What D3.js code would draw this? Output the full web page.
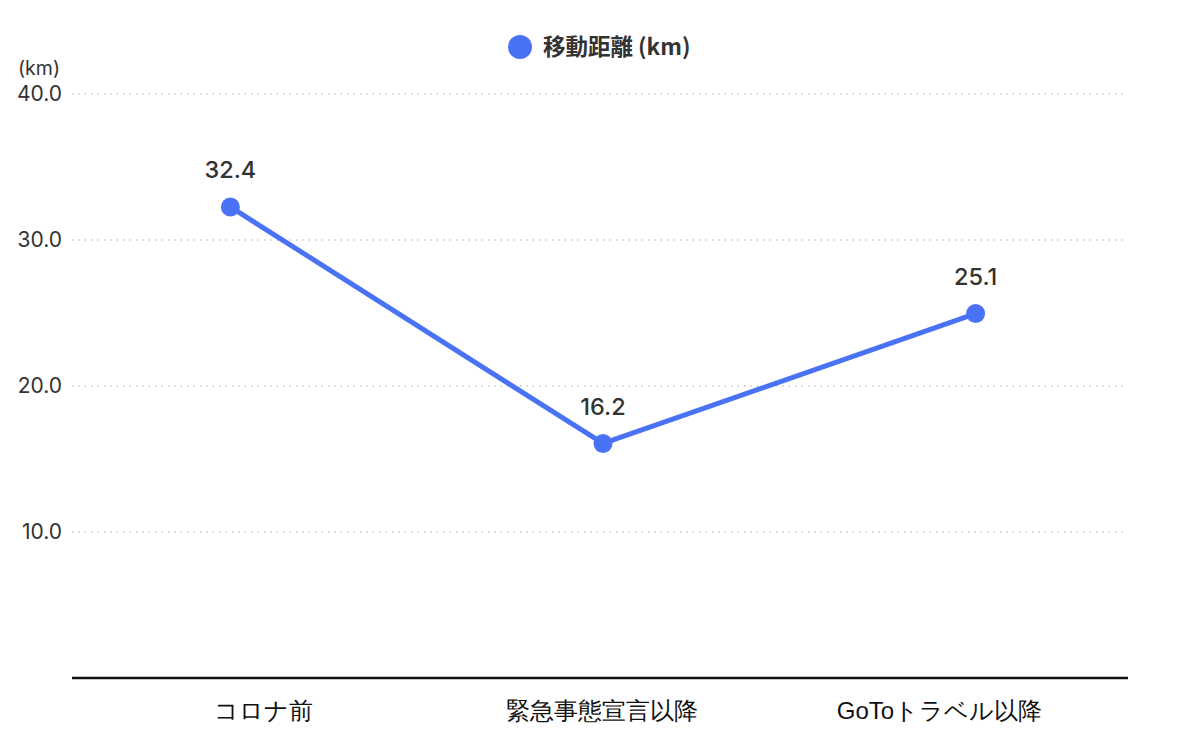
<!DOCTYPE html>
<html><head><meta charset="utf-8">
<script src="https://cdn.jsdelivr.net/npm/d3@7"></script>
<style>body{margin:0;background:#fff;} svg{display:block;font-family:"Noto Sans CJK JP","Noto Sans",sans-serif;}</style>
</head><body>
<svg id="c" width="1200" height="750"></svg>
<script>
const categories = ["コロナ前", "緊急事態宣言以降", "GoToトラベル以降"];
const distanceValues = [32.4, 16.2, 25.1];
const yTicks = [10, 20, 30, 40];
const seriesName = "移動距離 (km)";
const unitLabel = "(km)";

(function () {
const svg = d3.select("#c");
const mLeft = 72, mRight = 1128, mTop = 94, mBottom = 678;
const numFont = "Inter, Roboto, 'Noto Sans', sans-serif";
const y = d3.scaleLinear().domain([0, 40]).range([mBottom, mTop]);
const x = d3.scalePoint().domain(categories).range([mLeft + 3, mRight + 3]).padding(0.417);
const xLab = d3.scalePoint().domain(categories).range([mLeft + 1, mRight + 1]).padding(0.562);
const blue = "#4a72f5";

// grid
const grid = svg.append("g");
grid.selectAll("line").data(yTicks).join("line")
  .attr("x1", mLeft).attr("x2", mRight)
  .attr("y1", d => y(d)).attr("y2", d => y(d))
  .attr("stroke", "#999").attr("stroke-width", 1.2).attr("stroke-dasharray", "1.2,5.2");

// y axis labels
const yAxis = d3.axisLeft(y).tickValues(yTicks).tickFormat(d3.format(".1f")).tickSize(0).tickPadding(10);
const ya = svg.append("g").attr("transform", `translate(${mLeft},0)`).call(yAxis);
ya.select(".domain").remove();
ya.selectAll("text").attr("font-size", 21).attr("fill", "#333").attr("font-family", numFont);

svg.append("text").attr("x", 18).attr("y", 75).attr("font-size", 19.5).attr("fill", "#333")
  .attr("font-family", numFont).text(unitLabel);

// x axis
const xAxis = d3.axisBottom(xLab).tickSize(0).tickPadding(22);
const xa = svg.append("g").attr("transform", `translate(0,${mBottom})`).call(xAxis);
xa.select(".domain").remove();
svg.append("line").attr("x1", mLeft).attr("x2", mRight).attr("y1", mBottom).attr("y2", mBottom)
  .attr("stroke", "#111").attr("stroke-width", 2.5);
xa.selectAll("text").attr("font-size", 24).attr("fill", "#111").attr("dy", "0.8em");

const series = svg.append("g").attr("transform", "translate(0,2)");

// label backgrounds (behind line)
const lpos = (d, i) => `translate(${x(categories[i])},${y(d) - 37})`;
series.append("g").selectAll("rect").data(distanceValues).join("rect")
  .attr("transform", lpos)
  .attr("x", -34).attr("y", -16).attr("width", 68).attr("height", 32).attr("fill", "#fff");

// line
const line = d3.line().x((d, i) => x(categories[i])).y(d => y(d));
series.append("path").datum(distanceValues).attr("d", line)
  .attr("fill", "none").attr("stroke", blue).attr("stroke-width", 5).attr("stroke-linejoin", "round");

series.append("g").selectAll("circle").data(distanceValues).join("circle")
  .attr("cx", (d, i) => x(categories[i])).attr("cy", d => y(d)).attr("r", 9.5).attr("fill", blue);

series.append("g").selectAll("text").data(distanceValues).join("text")
  .attr("transform", lpos)
  .attr("text-anchor", "middle").attr("dy", "0.36em").attr("font-size", 23.5).attr("font-weight", 500).attr("fill", "#333")
  .attr("font-family", numFont).text(d => d.toFixed(1));

// legend
const leg = svg.append("g").attr("transform", "translate(520,47)");
leg.append("circle").attr("r", 12).attr("fill", blue);
leg.append("text").attr("x", 23).attr("dy", "0.36em").attr("font-size", 22.5).attr("font-weight", "bold")
  .attr("fill", "#333").text(seriesName);
})();
</script>
</body></html>
